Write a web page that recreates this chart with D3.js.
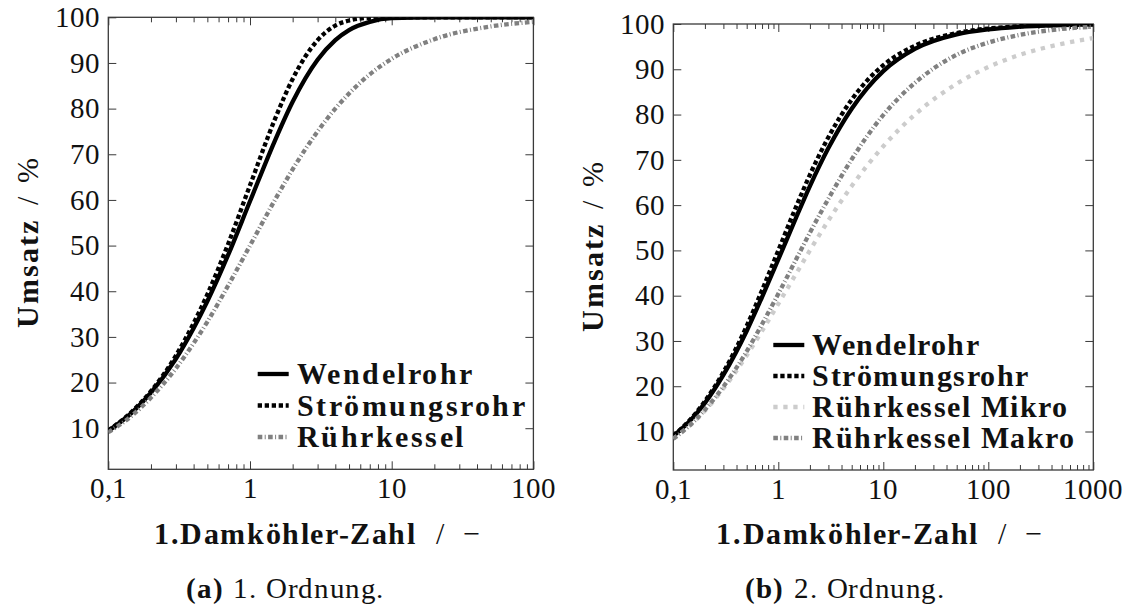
<!DOCTYPE html>
<html>
<head>
<meta charset="utf-8">
<script src="https://cdn.jsdelivr.net/npm/d3@7"></script>
<style>
  @font-face { font-family: "PlotSerif"; font-weight: 400;
    src: local("Liberation Serif"), local("LiberationSerif"), local("LiberationSerif-Regular"), local("Liberation Serif Regular"), local("DejaVu Serif"); }
  @font-face { font-family: "PlotSerif"; font-weight: 700;
    src: local("Liberation Serif Bold"), local("LiberationSerif-Bold"), local("DejaVu Serif Bold"), local("DejaVuSerif-Bold"); }
  html, body { margin: 0; padding: 0; background: #fff; }
  svg { display: block; font-family: "PlotSerif", "Liberation Serif", "Times New Roman", "DejaVu Serif", serif; }
  text { fill: #111; }
</style>
</head>
<body>
<svg id="chart" width="1126" height="605"></svg>
<script>
// ---- (a) 1. Ordnung: conversion in % over the 1st Damköhler number ----
const daA       = [0.1, 0.15, 0.2, 0.3, 0.4, 0.5, 0.7, 1, 1.5, 2, 3, 4, 5, 7, 10, 20, 50, 100];
const wendelA   = [9.4, 13.7, 17.8, 25.2, 31.9, 37.8, 47.9, 59.7, 73.0, 81.5, 90.7, 95.0, 97.2, 99.0, 99.8, 100, 100, 100];
const stroemA   = [9.5, 13.9, 18.1, 25.9, 33.0, 39.3, 50.3, 63.2, 77.7, 86.5, 95.0, 98.2, 99.3, 99.9, 100, 100, 100, 100];
const ruehrA    = [9.1, 13.0, 16.7, 23.1, 28.6, 33.3, 41.2, 50.0, 60.0, 66.7, 75.0, 80.0, 83.3, 87.5, 90.9, 95.2, 98.0, 99.0];

// ---- (b) 2. Ordnung ----
const daB       = [0.1, 0.15, 0.2, 0.3, 0.5, 0.7, 1, 1.5, 2, 3, 5, 7, 10, 20, 50, 100, 200, 500, 1000];
const wendelB   = [9.0, 12.8, 16.3, 22.5, 32.2, 39.7, 48.0, 57.6, 64.2, 72.6, 81.3, 85.8, 89.6, 94.5, 97.7, 98.8, 99.4, 99.75, 99.9];
const stroemB   = [9.1, 13.0, 16.7, 23.1, 33.3, 41.2, 50.0, 60.0, 66.7, 75.0, 83.3, 87.5, 90.9, 95.2, 98.0, 99.0, 99.5, 99.8, 99.9];
const mikroB    = [8.4, 11.7, 14.6, 19.5, 26.8, 32.2, 38.2, 45.1, 50.0, 56.6, 64.2, 68.7, 73.0, 80.0, 86.8, 90.5, 93.2, 95.6, 96.9];
const makroB    = [8.4, 11.8, 14.8, 19.9, 27.7, 33.7, 40.4, 48.3, 53.9, 61.4, 70.1, 75.2, 79.9, 87.0, 93.2, 95.9, 97.6, 98.9, 99.4];

// ---- axis ticks and texts ----
const xTicksA = [0.1, 1, 10, 100];
const xTicksB = [0.1, 1, 10, 100, 1000];
const yTicks  = [10, 20, 30, 40, 50, 60, 70, 80, 90, 100];
const namesA  = ["Wendelrohr", "Strömungsrohr", "Rührkessel"];
const namesB  = ["Wendelrohr", "Strömungsrohr", "Rührkessel Mikro", "Rührkessel Makro"];
const yTitleBold = "Umsatz", yTitleRest = " / %";
const xTitleBold = "1.Damköhler-Zahl", xTitleRest = " / −";
const captionA = ["(a)", " 1. Ordnung."];
const captionB = ["(b)", " 2. Ordnung."];

// ---- line styles ----
const LW = 4.3;
const styleSolid     = { stroke: "#000000", dash: null };
const styleDotted    = { stroke: "#000000", dash: "4.3,2.7" };
const styleDashDot   = { stroke: "#808080", dash: "4.6,2.4,1,2.4" };
const styleLightDots = { stroke: "#cccccc", dash: "4.3,5.7" };

const FONT = '"PlotSerif", "Liberation Serif", "Times New Roman", "DejaVu Serif", serif';
const deFmt = d3.formatLocale({ decimal: ",", thousands: ".", grouping: [3], currency: ["", " €"] }).format("~g");

const svg = d3.select("#chart");

function drawPanel(cfg) {
  const x = d3.scaleLog().domain(cfg.xDomain).range([cfg.left, cfg.right]);
  const y = d3.scaleLinear().domain(cfg.yDomain).range([cfg.bottom, cfg.top]);
  const g = svg.append("g");
  const axisColor = "#3a3a3a";

  // clip region for the curves
  const clipId = "clip-" + cfg.id;
  svg.append("clipPath").attr("id", clipId)
    .append("rect")
    .attr("x", cfg.left).attr("y", cfg.top)
    .attr("width", cfg.right - cfg.left).attr("height", cfg.bottom - cfg.top);

  // ticks: major at decades, minor in between (pointing inward on all four sides)
  const isMajor = v => Math.abs(Math.log10(v) - Math.round(Math.log10(v))) < 1e-9;
  const majorX = cfg.xTicks;
  const minorX = x.ticks().filter(v => !isMajor(v));

  const tickAxis = (axisFn, scale, values, size, transform) => {
    const a = axisFn(scale).tickValues(values).tickSize(-size).tickFormat("");
    const ag = g.append("g").attr("transform", transform).call(a);
    ag.select(".domain").remove();
    ag.selectAll(".tick line").attr("stroke", axisColor).attr("stroke-width", 1);
  };
  tickAxis(d3.axisBottom, x, minorX, 5, `translate(0,${cfg.bottom})`);
  tickAxis(d3.axisBottom, x, majorX, 8, `translate(0,${cfg.bottom})`);
  tickAxis(d3.axisTop, x, minorX, 5, `translate(0,${cfg.top})`);
  tickAxis(d3.axisTop, x, majorX, 8, `translate(0,${cfg.top})`);
  tickAxis(d3.axisLeft, y, yTicks, 8, `translate(${cfg.left},0)`);
  tickAxis(d3.axisRight, y, yTicks, 8, `translate(${cfg.right},0)`);

  // frame
  g.append("rect")
    .attr("x", cfg.left).attr("y", cfg.top)
    .attr("width", cfg.right - cfg.left).attr("height", cfg.bottom - cfg.top)
    .attr("fill", "none").attr("stroke", axisColor).attr("stroke-width", 1.3);

  const txt = sel => sel.style("font-family", FONT);

  // tick labels
  g.selectAll(".ylab").data(yTicks).join("text")
    .call(txt)
    .attr("x", cfg.left - 8).attr("y", d => y(d))
    .attr("dy", "0.34em").attr("text-anchor", "end")
    .style("font-size", "28.5px")
    .text(d => d);
  g.selectAll(".xlab").data(majorX).join("text")
    .call(txt)
    .attr("x", d => x(d)).attr("y", cfg.bottom + 29)
    .attr("text-anchor", "middle")
    .style("font-size", "28.5px")
    .text(d => deFmt(d));

  // axis titles
  const xt = g.append("text").call(txt)
    .attr("x", (cfg.left + cfg.right) / 2 - 4).attr("y", 544)
    .attr("text-anchor", "middle").style("font-size", "30px")
    .attr("xml:space", "preserve");
  xt.append("tspan").style("font-weight", "bold").style("letter-spacing", "1.6px").text(xTitleBold);
  xt.append("tspan").style("word-spacing", "11px").text(xTitleRest);

  const yt = g.append("text").call(txt)
    .attr("transform", `translate(${cfg.left - 70},${(cfg.top + cfg.bottom) / 2}) rotate(-90)`)
    .attr("text-anchor", "middle").style("font-size", "30px")
    .attr("xml:space", "preserve");
  yt.append("tspan").style("font-weight", "bold").style("letter-spacing", "2px").text(yTitleBold);
  yt.append("tspan").style("word-spacing", "6px").text(yTitleRest);

  // caption
  const ct = g.append("text").call(txt)
    .attr("x", cfg.captionX).attr("y", 598)
    .attr("text-anchor", "middle").style("font-size", "28.5px")
    .attr("xml:space", "preserve");
  ct.append("tspan").style("font-weight", "bold").style("letter-spacing", "1px").text(cfg.caption[0]);
  ct.append("tspan").style("letter-spacing", "0.6px").style("word-spacing", "2px").text(cfg.caption[1]);

  // curves
  const line = d3.line()
    .x(d => x(d[0])).y(d => y(d[1]))
    .curve(d3.curveMonotoneX);
  const curves = g.append("g").attr("clip-path", `url(#${clipId})`);
  cfg.series.forEach(s => {
    const pts = cfg.da.map((d, i) => [d, s.values[i]]);
    curves.append("path")
      .attr("d", line(pts))
      .attr("fill", "none")
      .attr("stroke", s.style.stroke)
      .attr("stroke-width", LW)
      .attr("stroke-dasharray", s.style.dash)
      .attr("stroke-linecap", "butt")
      .attr("stroke-linejoin", "round");
  });

  // legend
  const lg = g.append("g");
  cfg.series.forEach((s, i) => {
    const cy = cfg.legend.y0 + i * cfg.legend.dy;
    lg.append("line")
      .attr("x1", cfg.legend.x).attr("x2", cfg.legend.x + 31)
      .attr("y1", cy).attr("y2", cy)
      .attr("stroke", s.style.stroke).attr("stroke-width", LW)
      .attr("stroke-dasharray", s.style.dash);
    lg.append("text").call(txt)
      .attr("x", cfg.legend.x + 39).attr("y", cy + 10)
      .style("font-size", cfg.legend.size + "px").style("font-weight", "bold")
      .style("letter-spacing", cfg.legend.spacing + "px")
      .text(s.name);
  });
}

drawPanel({
  id: "a",
  left: 108.3, right: 533.4, top: 17.3, bottom: 469.3,
  xDomain: [0.1, 100], yDomain: [1, 100],
  xTicks: xTicksA,
  da: daA,
  series: [
    { name: namesA[0], values: wendelA, style: styleSolid },
    { name: namesA[1], values: stroemA, style: styleDotted },
    { name: namesA[2], values: ruehrA,  style: styleDashDot }
  ],
  legend: { x: 257.7, y0: 374, dy: 31.5, size: 30, spacing: 2.5 },
  caption: captionA, captionX: 285
});

drawPanel({
  id: "b",
  left: 673.3, right: 1093.3, top: 24, bottom: 470,
  xDomain: [0.1, 1000], yDomain: [1.5, 100],
  xTicks: xTicksB,
  da: daB,
  series: [
    { name: namesB[0], values: wendelB, style: styleSolid },
    { name: namesB[1], values: stroemB, style: styleDotted },
    { name: namesB[2], values: mikroB,  style: styleLightDots },
    { name: namesB[3], values: makroB,  style: styleDashDot }
  ],
  legend: { x: 773.3, y0: 345, dy: 31, size: 30, spacing: 1.5 },
  caption: captionB, captionX: 845
});
</script>
</body>
</html>
